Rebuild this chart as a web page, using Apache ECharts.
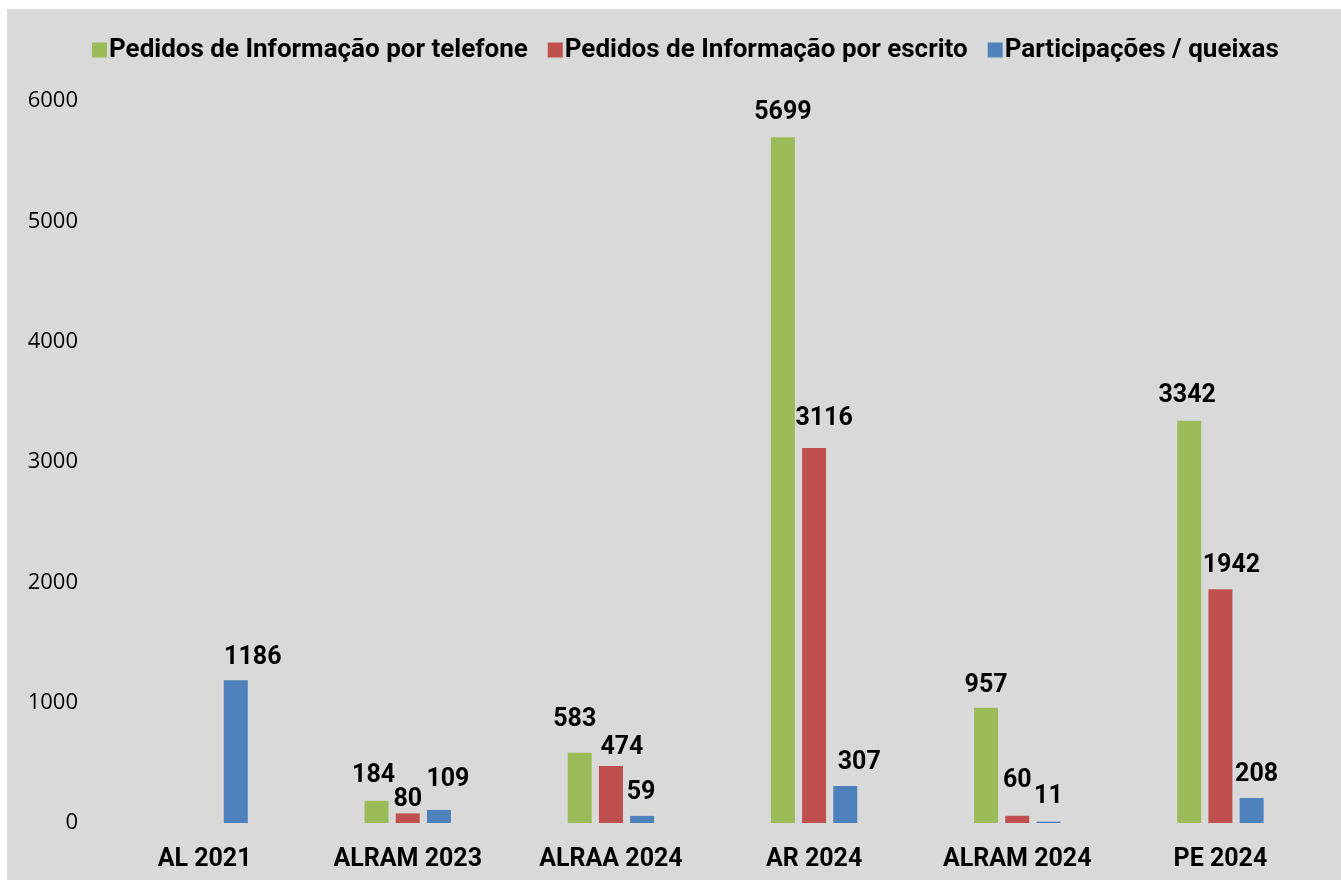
<!DOCTYPE html>
<html>
<head>
<meta charset="utf-8">
<script src="https://cdn.jsdelivr.net/npm/echarts@6/dist/echarts.min.js"></script>
<style>
  html, body { margin: 0; padding: 0; background: #fff; }
  #chart { position: absolute; left: 7px; top: 9px; width: 1334px; height: 871px; background: #d9d9d9; }
</style>
</head>
<body>
<div id="chart"></div>
<script>
// categorias e séries
const categories = ["AL 2021", "ALRAM 2023", "ALRAA 2024", "AR 2024", "ALRAM 2024", "PE 2024"];
const telefone = [null, 184, 583, 5699, 957, 3342];
const escrito = [null, 80, 474, 3116, 60, 1942];
const queixas = [1186, 109, 59, 307, 11, 208];
const yTicks = [0, 1000, 2000, 3000, 4000, 5000, 6000];

const seriesNames = [
  "Pedidos de Informação por telefone",
  "Pedidos de Informação por escrito",
  "Participações / queixas"
];
const colors = ["#9bbb59", "#c0504d", "#4f81bd"];

// deslocamentos manuais dos rótulos (como no Excel), [dx, dy] por categoria
const labelNudge = [
  [[0, 0], [-3, -1], [-5, -9], [0, 0], [0, 2], [-2, -1]],
  [[0, 0], [0, 11], [11, 6], [10, -5], [0, -11], [11, 1]],
  [[17, 2], [9, -6], [-1, 1], [14, 1], [0, 0], [5, 1]]
];

var myChart = echarts.init(document.getElementById("chart"));

function barSeries(idx, data) {
  return {
    name: seriesNames[idx],
    type: "bar",
    data: data.map(function (v, i) {
      return { value: v, label: { offset: labelNudge[idx][i] } };
    }),
    barWidth: 24,
    barGap: "30%",
    itemStyle: { color: colors[idx] },
    label: {
      show: true,
      position: "top",
      distance: 12,
      color: "#000",
      fontFamily: "Roboto",
      fontWeight: "bold",
      fontSize: 25
    }
  };
}

let option = {
  animation: false,
  color: colors,
  legend: {
    top: 23,
    left: 80,
    itemWidth: 15,
    itemHeight: 15,
    itemGap: 20,
    icon: "rect",
    textStyle: {
      color: "#000",
      fontFamily: "Roboto",
      fontWeight: "bold",
      fontSize: 26,
      padding: [0, 0, 0, -3]
    },
    data: seriesNames
  },
  grid: { left: 96, right: 19, top: 92, bottom: 57 },
  xAxis: {
    type: "category",
    data: categories,
    axisLine: { show: false },
    axisTick: { show: false },
    axisLabel: {
      color: "#000",
      fontFamily: "Roboto",
      fontWeight: "bold",
      fontSize: 25,
      margin: 24
    }
  },
  yAxis: {
    type: "value",
    min: yTicks[0],
    max: yTicks[yTicks.length - 1],
    interval: 1000,
    splitLine: { show: false },
    axisLine: { show: false },
    axisTick: { show: false },
    axisLabel: {
      color: "#000",
      fontFamily: "Open Sans",
      fontSize: 22,
      margin: 25,
      formatter: function (v) { return String(v); }
    }
  },
  series: [
    barSeries(0, telefone),
    barSeries(1, escrito),
    barSeries(2, queixas)
  ]
};

myChart.setOption(option, true);
</script>
</body>
</html>
